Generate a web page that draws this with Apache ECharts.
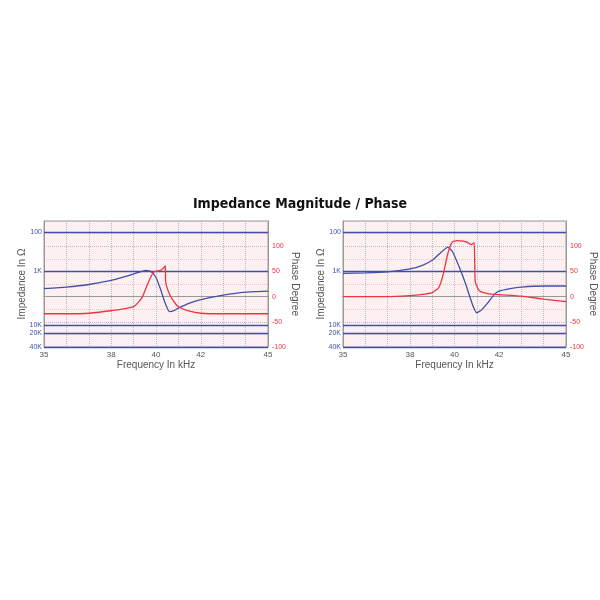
<!DOCTYPE html>
<html><head><meta charset="utf-8">
<script src="https://cdn.jsdelivr.net/npm/echarts@6/dist/echarts.min.js"></script>
<style>html,body{margin:0;padding:0;background:#fff}#c{width:600px;height:600px}</style>
</head><body><div id="c"></div>
<script>
// Left chart (values in plot units of the phase scale)
const leftImpedance = [[35,16],[36,19],[37,24],[38,32],[38.5,38],[39,45],[39.3,49],[39.57,52],[39.8,49],[40,38],[40.2,15],[40.4,-12],[40.6,-30],[40.8,-28],[41,-23],[41.5,-13],[42,-6],[43,3],[44,9],[45,11]];
const leftPhase = [[35,-34],[36,-34],[37,-33],[38,-28],[38.5,-25],[39,-20],[39.2,-12],[39.4,0],[39.6,22],[39.8,42],[39.9,49],[40,50],[40.2,52],[40.3,55],[40.42,61],[40.43,30],[40.6,5],[40.8,-10],[41,-20],[41.5,-29],[42,-33],[43,-34],[45,-34]];
// Right chart
const rightImpedance = [[35,46],[36,47],[37,49],[38,55],[38.5,61],[39,72],[39.4,88],[39.7,98],[39.9,90],[40.2,60],[40.5,25],[40.8,-15],[41,-32],[41.2,-27],[41.5,-12],[41.8,5],[42,11],[42.5,16],[43,19],[44,21],[45,21]];
const rightPhase = [[35,0],[36,0],[37,0],[38,2],[38.5,4],[39,8],[39.3,18],[39.5,45],[39.7,85],[39.9,108],[40.1,111],[40.4,110],[40.6,107],[40.75,103],[40.88,107],[40.93,30],[41.1,12],[41.5,6],[42,4],[43,1],[44,-5],[45,-10]];
const xLabels = [35,38,40,42,45];
const impLevels = [[128,'100'],[50,'1K'],[-56,'10K'],[-72,'20K'],[-100,'40K']];

const blue='#4050a8', red='#ee3344';
const grids=[{left:44,width:224,top:221,height:126},{left:343,width:223,top:221,height:126}];
function xa(i){return {gridIndex:i,type:'value',min:35,max:45,interval:1,
  name:'Frequency In kHz',nameLocation:'middle',nameGap:13,nameTextStyle:{color:'#555',fontSize:10},
  axisLine:{lineStyle:{color:'#999'}},axisTick:{show:false},
  axisLabel:{fontSize:8,color:'#555',margin:4,formatter:v=>xLabels.includes(v)?String(v):''},
  splitLine:{show:true,lineStyle:{color:'#bbb',type:'dotted'}}};}
function yl(i){return {gridIndex:i,type:'value',min:-100,max:150,interval:50,position:'left',
  name:'Impedance In Ω',nameLocation:'middle',nameGap:17,nameTextStyle:{color:'#555',fontSize:10},
  axisLine:{show:true,lineStyle:{color:'#999'}},axisTick:{show:false},axisLabel:{show:false},
  splitLine:{show:true,lineStyle:{color:'#bbb',type:'dotted'}},
  minorTick:{show:false,splitNumber:2},minorSplitLine:{show:true,lineStyle:{color:'#f2c0c6',type:'dotted'}}};}
function yr(i){return {gridIndex:i,type:'value',min:-100,max:150,interval:50,position:'right',
  name:'Phase Degree',nameLocation:'middle',nameGap:22,nameRotate:-90,nameTextStyle:{color:'#555',fontSize:10},
  axisLine:{show:true,lineStyle:{color:'#999'}},axisTick:{show:false},
  axisLabel:{fontSize:7,color:red,margin:4,formatter:v=>v===150?'':String(v)},splitLine:{show:false}};}
function lines(i){return {type:'line',xAxisIndex:i,yAxisIndex:2*i,data:[],silent:true,
  markLine:{symbol:'none',silent:true,lineStyle:{color:blue,type:'solid',width:1.3,opacity:1},
    label:{position:'start',color:blue,fontSize:7,distance:2,formatter:p=>p.name},
    data:impLevels.map(l=>({yAxis:l[0],name:l[1]}))}};}
function ser(d,c,i,ax){return {type:'line',xAxisIndex:i,yAxisIndex:2*i+ax,data:d,showSymbol:false,smooth:0.15,lineStyle:{color:c,width:1.3},z:5};}
const chart=echarts.init(document.getElementById('c'));
chart.setOption({
  backgroundColor:'#fff',animation:false,
  title:{text:'Impedance Magnitude / Phase',left:'center',top:192,textStyle:{fontSize:14,fontWeight:'bold',color:'#111',fontFamily:'Liberation Sans Narrow, DejaVu Sans Condensed, sans-serif'}},
  grid:grids.map(g=>Object.assign({backgroundColor:'#fdf0f1',show:true,borderColor:'#999',borderWidth:1},g)),
  xAxis:[xa(0),xa(1)],
  yAxis:[yl(0),yr(0),yl(1),yr(1)],
  series:[lines(0),lines(1),
    ser(leftImpedance,blue,0,0),ser(leftPhase,red,0,1),
    ser(rightImpedance,blue,1,0),ser(rightPhase,red,1,1)]
});
</script></body></html>
